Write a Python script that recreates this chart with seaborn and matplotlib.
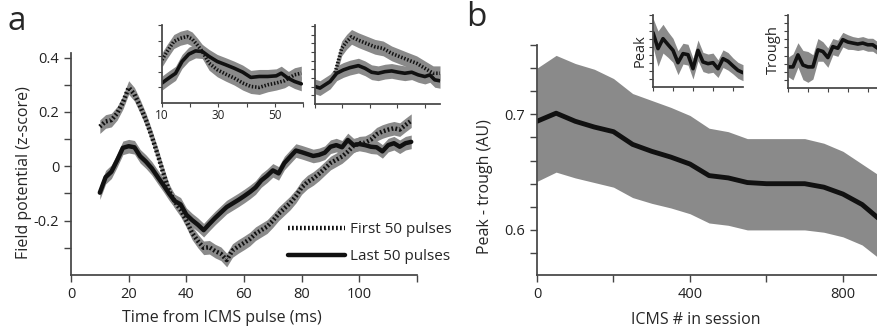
import numpy as np
import pandas as pd
import seaborn as sns
import matplotlib.pyplot as plt

# panel a: field potential around the ICMS pulse
t_ms = list(range(10, 120, 2))
first50 = [0.146, 0.165, 0.17, 0.195, 0.235, 0.29, 0.265, 0.22, 0.17, 0.11,
           0.045, -0.025, -0.09, -0.13, -0.16, -0.2, -0.245, -0.275, -0.3, -0.298,
           -0.312, -0.322, -0.345, -0.31, -0.295, -0.282, -0.268, -0.248, -0.235, -0.222,
           -0.2, -0.175, -0.155, -0.135, -0.11, -0.078, -0.058, -0.045, -0.028, -0.008,
           0.012, 0.024, 0.036, 0.054, 0.075, 0.085, 0.087, 0.098, 0.118, 0.128,
           0.135, 0.14, 0.135, 0.152, 0.168]
last50 = [-0.097, -0.04, -0.02, 0.022, 0.068, 0.074, 0.07, 0.037, 0.017, -0.007,
          -0.038, -0.068, -0.1, -0.128, -0.14, -0.178, -0.198, -0.215, -0.235, -0.212,
          -0.19, -0.17, -0.15, -0.137, -0.124, -0.11, -0.095, -0.078, -0.052, -0.035,
          -0.015, -0.026, 0.012, 0.035, 0.058, 0.052, 0.045, 0.038, 0.042, 0.05,
          0.072, 0.078, 0.07, 0.097, 0.078, 0.082, 0.078, 0.072, 0.07, 0.055,
          0.078, 0.085, 0.072, 0.085, 0.09]
sem_a = 0.025

# inset 1 of panel a (arbitrary units)
in1_t = [10, 12.4, 14.8, 17.1, 19.5, 21.9, 24.3, 26.7, 29.6, 32.6, 35.6, 38.6, 41.5, 44.5, 47.5, 50.5, 52.3, 54.6, 57, 59.4]
in1_last = [1.28, 1.6, 1.9, 2.66, 3.13, 3.34, 3.3, 2.98, 2.66, 2.45, 2.23, 1.98, 1.64, 1.7, 1.7, 1.74, 1.91, 1.6, 1.38, 1.23]
in1_tf = [10, 11.8, 14.2, 16.5, 18.9, 20.7, 22.5, 24.3, 26.7, 29.6, 32.6, 35.6, 38.6, 41.5, 44.5, 47.5, 50.5, 53.5, 57, 59.4]
in1_first = [2.77, 3.3, 3.94, 4.15, 4.26, 4.1, 3.72, 3.3, 2.55, 2.13, 1.85, 1.6, 1.28, 1.06, 1.0, 1.17, 1.28, 1.43, 1.81, 1.91]

# inset 2 of panel a
in2_t = [10, 11.8, 13.6, 15.5, 17.9, 20.3, 22.7, 25.8, 28.2, 30.6, 33, 35.5, 37.9, 40.3, 42.7, 45.2, 47.6, 50, 51.8, 53.6, 55.5]
in2_last = [2.02, 1.83, 2.2, 2.59, 3.54, 3.92, 4.19, 4.42, 4.11, 3.66, 3.54, 3.73, 3.81, 3.66, 3.54, 3.66, 3.35, 3.16, 3.35, 2.78, 2.67]
in2_tf = [17.3, 19.7, 21.5, 23.3, 25.8, 28.8, 31.8, 34.8, 37.9, 40.9, 43.9, 47, 50, 53, 55.5]
in2_first = [3.6, 6.4, 7.16, 7.73, 7.35, 6.97, 6.59, 6.4, 5.83, 5.45, 5.07, 4.69, 4.11, 3.54, 3.54]

# panel b: peak - trough across the session
icms = list(range(0, 950, 50))
pt_mean = [0.694, 0.701, 0.694, 0.689, 0.685, 0.674, 0.668, 0.663, 0.657, 0.647,
           0.645, 0.641, 0.640, 0.640, 0.640, 0.637, 0.631, 0.622, 0.608]
pt_hi = [0.740, 0.751, 0.744, 0.739, 0.731, 0.718, 0.712, 0.706, 0.699, 0.688,
         0.685, 0.679, 0.679, 0.679, 0.679, 0.675, 0.668, 0.657, 0.646]
pt_lo = [0.642, 0.650, 0.645, 0.641, 0.637, 0.628, 0.623, 0.619, 0.614, 0.606,
         0.604, 0.600, 0.600, 0.600, 0.600, 0.598, 0.594, 0.587, 0.574]
peak = [6.8, 4.8, 6.04, 5.3, 4.58, 3.04, 4.17, 4.04, 2.29, 4.58, 3.13, 2.92, 3.04, 2.29, 3.54, 3.21, 2.63, 2.08, 1.79]
peak_err = [1.8, 2.2, 1.8, 1.6, 1.5, 1.5, 1.3, 1.3, 1.3, 1.3, 1.2, 1.2, 1.2, 1.1, 1.1, 1.1, 1.0, 1.0, 1.0]
trough = [2.6, 2.6, 4.08, 2.83, 2.6, 2.6, 4.7, 4.5, 3.75, 5.1, 4.9, 5.96, 5.67, 5.54, 5.42, 5.54, 5.33, 5.33, 4.9]
trough_err = [1.2, 1.6, 1.5, 1.8, 1.9, 1.5, 1.4, 1.2, 1.2, 1.0, 1.0, 0.9, 0.9, 0.8, 0.8, 0.8, 0.8, 0.8, 0.8]

sns.set_theme(style="ticks")
plt.rcParams['font.family'] = ['Open Sans', 'DejaVu Sans']
plt.rcParams['axes.edgecolor'] = '#444444'
plt.rcParams['xtick.color'] = '#444444'
plt.rcParams['ytick.color'] = '#444444'
plt.rcParams['xtick.labelcolor'] = '#222222'
plt.rcParams['ytick.labelcolor'] = '#222222'

BAND = '#8a8a8a'
DOT = (0, (0.4, 0.5))

fig = plt.figure(figsize=(8.77, 3.33), dpi=100)
W, H = 877.0, 333.0


def add_ax(l, r, t, b):
    return fig.add_axes([l / W, 1 - b / H, (r - l) / W, (b - t) / H])


def clean(ax):
    sns.despine(ax=ax)
    ax.set_xlabel('')
    ax.set_ylabel('')


def trace(ax, x, y, err, dotted=False, lw=3.0, label=None):
    y = np.array(y)
    ax.fill_between(x, y - err, y + err, color=BAND, lw=0)
    if dotted:
        sns.lineplot(x=x, y=y, ax=ax, color='#111111', lw=lw, linestyle=DOT, label=label)
    else:
        sns.lineplot(x=x, y=y, ax=ax, color='#111111', lw=lw, label=label)


# ---- panel a main
axa = add_ax(71, 417, 53, 275)
trace(axa, t_ms, first50, sem_a, dotted=True, lw=3.2, label='First 50 pulses')
trace(axa, t_ms, last50, sem_a, lw=3.2, label='Last 50 pulses')
axa.set_xlim(0, 120)
axa.set_ylim(-0.4, 0.417)
axa.set_xticks([0, 20, 40, 60, 80, 100, 120])
axa.set_xticklabels(['0', '20', '40', '60', '80', '100', ''])
axa.set_yticks([-0.3, -0.2, -0.1, 0, 0.1, 0.2, 0.3, 0.4])
axa.set_yticklabels(['', '-0.2', '', '0', '', '0.2', '', '0.4'])
axa.tick_params(labelsize=10.5, length=5, width=1)
clean(axa)
axa.legend(loc='upper left', bbox_to_anchor=((288 - 71) / 346, (275 - 222) / 222),
           frameon=False, fontsize=11, handlelength=3.7, handletextpad=0.35,
           labelspacing=0.8, borderaxespad=0, borderpad=0)

# ---- panel a insets
ins1 = add_ax(162, 303, 25, 103)
trace(ins1, in1_tf, in1_first, 0.45, dotted=True, lw=2.6)
trace(ins1, in1_t, in1_last, 0.45, lw=2.6)
ins1.set_xlim(10, 60)
ins1.set_ylim(0, 5)
ins1.set_xticks([10, 20, 30, 40, 50, 60])
ins1.set_xticklabels(['10', '', '30', '', '50', ''])
ins1.set_yticks([1, 2, 3, 4, 5])
ins1.set_yticklabels([])
ins1.tick_params(labelsize=8.5, length=3, width=0.8, pad=1)
clean(ins1)

ins2 = add_ax(315, 440, 25, 104)
trace(ins2, in2_tf, in2_first, 0.85, dotted=True, lw=2.6)
trace(ins2, in2_t, in2_last, 0.85, lw=2.6)
ins2.set_xlim(10, 55.5)
ins2.set_ylim(0, 9.1)
ins2.set_xticks([10, 20, 30, 40, 50])
ins2.set_xticklabels([])
ins2.set_yticks(range(1, 10))
ins2.set_yticklabels([])
ins2.tick_params(length=3, width=0.8)
clean(ins2)

# ---- panel b main
axb = add_ax(537, 877, 45, 275)
axb.fill_between(icms, pt_lo, pt_hi, color=BAND, lw=0)
sns.lineplot(x=icms, y=pt_mean, ax=axb, color='#111111', lw=3.5)
axb.set_xlim(0, 889)
axb.set_ylim(0.561, 0.76)
axb.set_xticks([0, 200, 400, 600, 800])
axb.set_xticklabels(['0', '', '400', '', '800'])
axb.set_yticks(np.arange(0.58, 0.761, 0.02))
axb.set_yticklabels(['', '0.6', '', '', '', '', '0.7', '', '', ''])
axb.tick_params(labelsize=10.5, length=5, width=1)
clean(axb)

# ---- panel b insets
ipk = add_ax(653, 743, 15, 87)
trace(ipk, icms, peak, np.array(peak_err), lw=2.6)
ipk.set_xlim(0, 900)
ipk.set_ylim(0, 9)
ipk.set_xticks([0, 200, 400, 600, 800])
ipk.set_yticks(range(1, 10))
ipk.set_xticklabels([])
ipk.set_yticklabels([])
ipk.tick_params(length=3, width=0.8)
clean(ipk)

itr = add_ax(788, 877, 15, 88)
trace(itr, icms, trough, np.array(trough_err), lw=2.6)
itr.set_xlim(0, 893)
itr.set_ylim(0, 9)
itr.set_xticks([0, 200, 400, 600, 800])
itr.set_yticks(range(1, 10))
itr.set_xticklabels([])
itr.set_yticklabels([])
itr.tick_params(length=3, width=0.8)
clean(itr)

# ---- labels
fig.text(24 / W, 1 - 173 / H, 'Field potential (z-score)', rotation=90, ha='center', va='center', fontsize=11.5)
fig.text(222 / W, 1 - 318 / H, 'Time from ICMS pulse (ms)', ha='center', va='center', fontsize=11.5)
fig.text(485 / W, 1 - 187 / H, 'Peak - trough (AU)', rotation=90, ha='center', va='center', fontsize=11.5)
fig.text(696 / W, 1 - 320 / H, 'ICMS # in session', ha='center', va='center', fontsize=11.5)
fig.text(640 / W, 1 - 51 / H, 'Peak', rotation=90, ha='center', va='center', fontsize=10.5)
fig.text(773 / W, 1 - 50 / H, 'Trough', rotation=90, ha='center', va='center', fontsize=10.5)
fig.text(17 / W, 1 - 22 / H, 'a', ha='center', va='center', fontsize=24)
fig.text(476 / W, 1 - 18 / H, 'b', ha='center', va='center', fontsize=24)

fig.savefig('out.png', dpi=100)
